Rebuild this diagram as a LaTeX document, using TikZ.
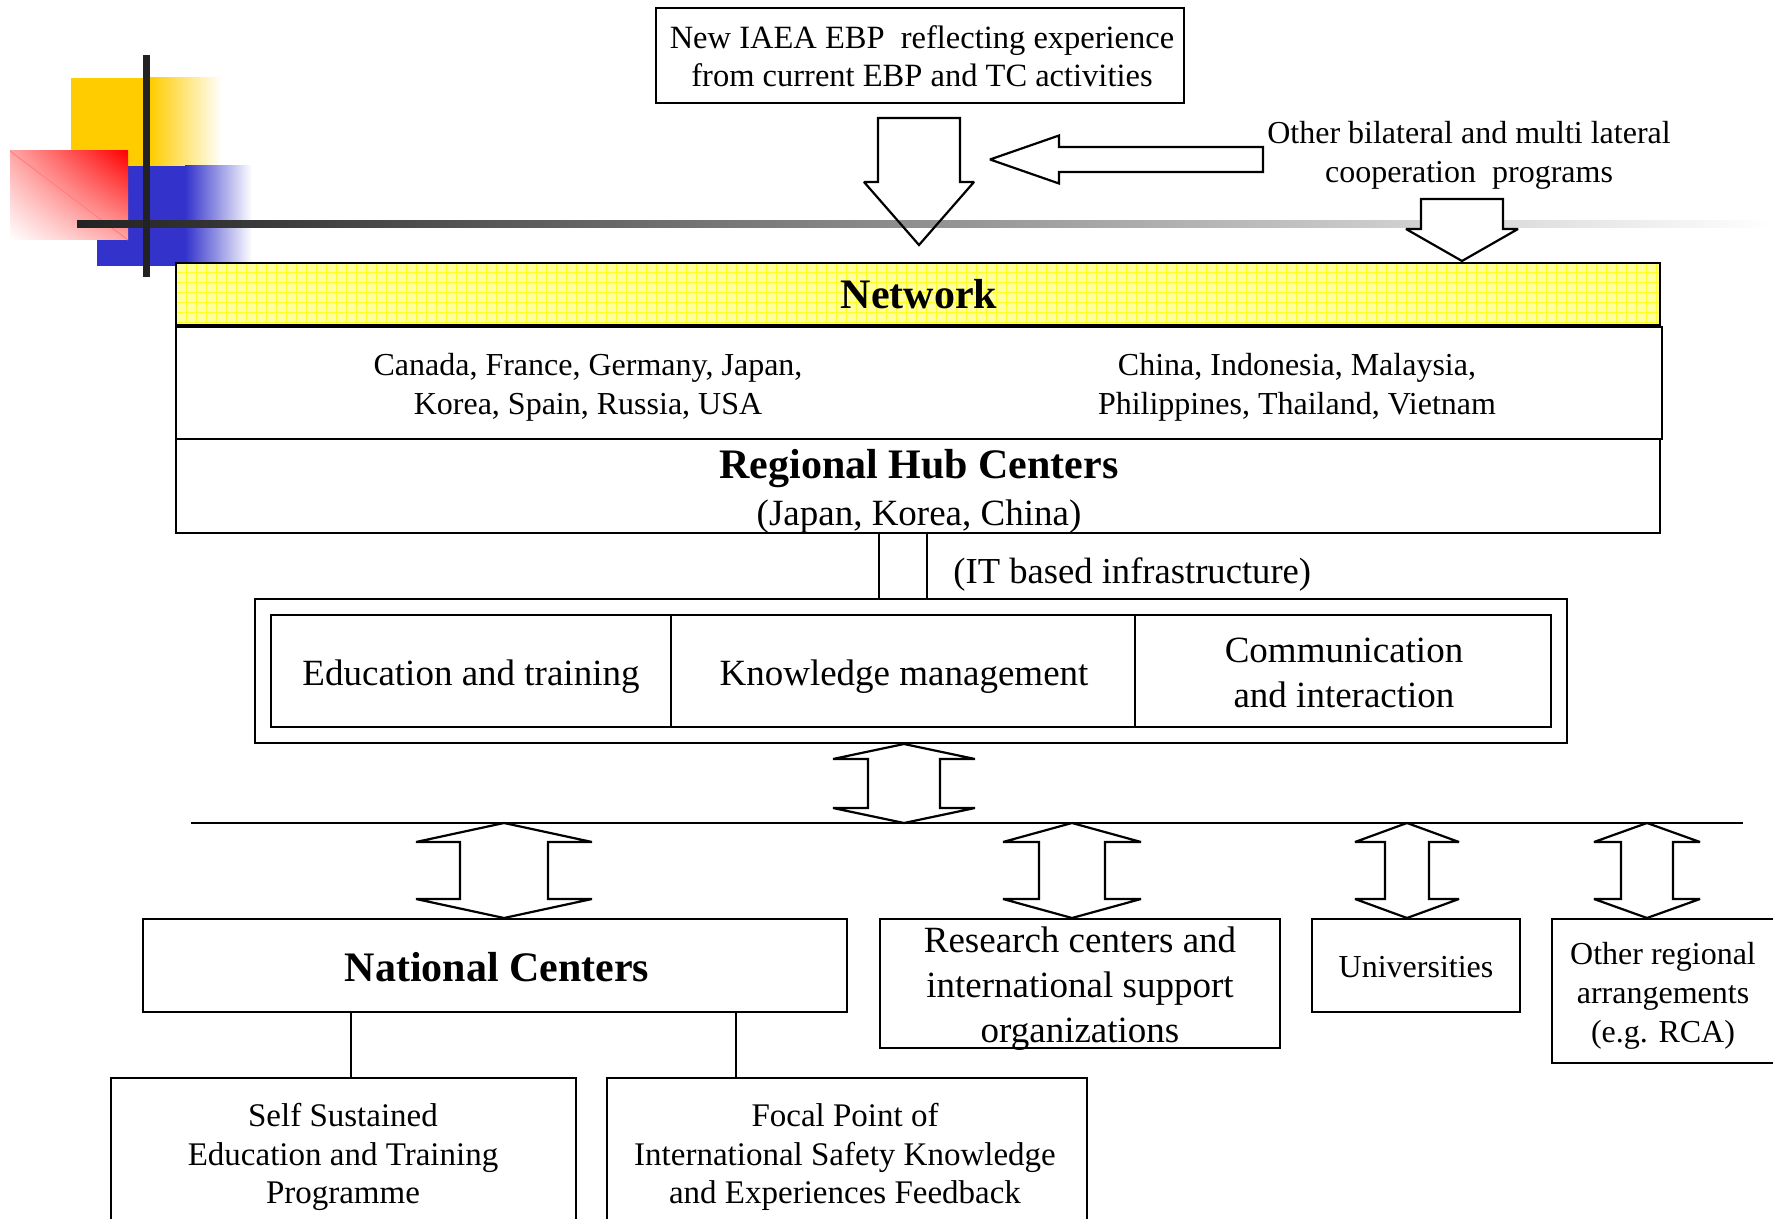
\documentclass[tikz,border=0pt]{standalone}
\usepackage{fontspec}
\setmainfont{Liberation Serif}
\usetikzlibrary{calc,fit,shadings}
\definecolor{decoyellow}{RGB}{255,204,0}
\definecolor{decoblue}{RGB}{51,51,204}
\definecolor{decored}{RGB}{255,0,0}
\definecolor{netfill}{RGB}{255,255,160}
\definecolor{netgrid}{RGB}{255,255,40}
\definecolor{bardark}{RGB}{34,34,34}
% vertical double block arrow: top tip, bottom tip, half shaft, half head, head length
\newcommand\DblArrowV[5]{%
  \draw[barrow] (#1) -- ($(#1)+(#4,#5)$) -- ($(#1)+(#3,#5)$) -- ($(#2)+(#3,-#5)$) -- ($(#2)+(#4,-#5)$) -- (#2) -- ($(#2)+(-#4,-#5)$) -- ($(#2)+(-#3,-#5)$) -- ($(#1)+(-#3,#5)$) -- ($(#1)+(-#4,#5)$) -- cycle;}
% downward block arrow: style, top centre, tip, half shaft, half head, head length
\newcommand\DownArrowV[6]{%
  \draw[#1] ($(#2)+(-#4,0)$) -- ($(#2)+(#4,0)$) -- ($(#3)+(#4,-#6)$) -- ($(#3)+(#5,-#6)$) -- (#3) -- ($(#3)+(-#5,-#6)$) -- ($(#3)+(-#4,-#6)$) -- cycle;}
\begin{document}
\begin{tikzpicture}[x=0.5pt,y=-0.5pt,
  box/.style={draw, line width=1.1pt, inner sep=0pt},
  barrow/.style={draw, line width=1.1pt, line join=miter, miter limit=2, fill=white},
  conn/.style={line width=0.8pt},
  txt/.style={inner sep=0pt, align=center},
  fa/.style={txt, font=\fontsize{16}{19.5}\selectfont},
  fb/.style={txt, font=\fontsize{18.5}{22.5}\selectfont},
  fh/.style={txt, font=\fontsize{21}{24}\selectfont\bfseries},
]
\useasboundingbox (0,0) rectangle (1773,1219);

% decoration top left
\fill[decoyellow] (71,78) rectangle (150,166);
\shade[left color=decoyellow, right color=white] (150,78) rectangle (222,166);
\fill[decoblue] (97,166) rectangle (185,266);
\shade[left color=decoblue, right color=white] (185,166) rectangle (252,266);
\shade[upper right=decored, lower left=white, upper left=decored!35, lower right=decored!35] (10,151) rectangle (128,240);
\draw[decored!50, line width=0.5pt] (10,151) -- (128,240);
\shade[left color=bardark, right color=white] (77,221) rectangle (1773,228);
\fill[bardark] (143,55) rectangle (150,277);

% top box
\node[box, fit={(656,8) (1184,103)}] (iaea) {};
\node[fa, font=\fontsize{16.25}{19}\selectfont] (iaeaT) at (922,56) {New IAEA EBP\ \ reflecting experience\\from current EBP and TC activities};

% arrows at top
\coordinate (a1top) at (919,118);
\coordinate (a1tip) at (919,245);
\DownArrowV{barrow, fill=none}{a1top}{a1tip}{41}{55}{63}
\coordinate (a2top) at (1462,199);
\coordinate (a2tip) at (1462,261);
\DownArrowV{barrow}{a2top}{a2tip}{41}{56}{32}
\coordinate (a3tip) at (990,159.5);
\coordinate (a3end) at (1263,159.5);
\draw[barrow] (a3tip) -- ($(a3tip)+(69,-24)$) -- ($(a3tip)+(69,-12.5)$) -- ($(a3end)+(0,-12.5)$) -- ($(a3end)+(0,12.5)$) -- ($(a3tip)+(69,12.5)$) -- ($(a3tip)+(69,24)$) -- cycle;
\node[fa] (coop) at (1469,155) {Other bilateral and multi lateral\\cooperation\ \ programs};

% network
\fill[netfill] (176,263) rectangle (1660,325);
\foreach \gx in {186,196,...,1656} \draw[netgrid, line width=0.5pt] (\gx,264) -- (\gx,324);
\foreach \gy in {273,283,...,323} \draw[netgrid, line width=0.5pt] (177,\gy) -- (1659,\gy);
\node[box, fit={(176,263) (1660,325)}] (net) {};
\node[fh] (netT) at (919,294) {Network};

% countries
\node[box, fit={(176,327) (1662,439)}] (ctry) {};
\node[fa] (ctryL) at (588,387) {Canada, France, Germany, Japan,\\Korea, Spain, Russia, USA};
\node[fa] (ctryR) at (1297,387) {China, Indonesia, Malaysia,\\Philippines, Thailand, Vietnam};

% regional hub
\node[box, fit={(176,439) (1660,533)}] (hub) {};
\node[fh, anchor=base] (hubT) at (919,479) {Regional Hub Centers};
\node[fb, anchor=base] (hubS) at (919,526) {(Japan, Korea, China)};

% functions block
\node[box, fit={(255,599) (1567,743)}] (outer) {};
\node[box, fit={(271,615) (1551,727)}] (inner) {};
\coordinate (d1) at (671,0);
\coordinate (d2) at (1135,0);
\draw[conn] (d1 |- inner.north) -- (d1 |- inner.south);
\draw[conn] (d2 |- inner.north) -- (d2 |- inner.south);
\node[fb, anchor=base] (edu) at (471,685) {Education and training};
\node[fb, anchor=base] (km) at (904,685) {Knowledge management};
\node[fb] (comm) at (1344,673) {Communication\\and interaction};

% IT link
\coordinate (v1) at (879,0);
\coordinate (v2) at (927,0);
\draw[conn] (v1 |- hub.south) -- (v1 |- outer.north);
\draw[conn] (v2 |- hub.south) -- (v2 |- outer.north);
\node[fb, anchor=base west, font=\fontsize{18.3}{21}\selectfont] (it) at (953,583) {(IT based infrastructure)};

% middle arrow and bus
\coordinate (m1) at (904,744);
\coordinate (m2) at (904,823);
\DblArrowV{m1}{m2}{36}{71}{15}
\coordinate (busL) at (191,823);
\coordinate (busR) at (1743,823);
\draw[line width=1.1pt] (busL) -- (busR);

% lower boxes
\node[box, fit={(143,919) (847,1012)}] (nc) {};
\node[fh] (ncT) at (497,967) {National Centers};
\node[box, fit={(880,919) (1280,1048)}] (rc) {};
\node[fb] (rcT) at (1080,989) {Research centers and\\international support\\organizations};
\node[box, fit={(1312,919) (1520,1012)}] (uni) {};
\node[fa] (uniT) at (1416,967) {Universities};
\node[box, fit={(1552,919) (1800,1063)}] (orc) {};
\node[fa] (orcT) at (1663,996) {Other regional\\arrangements\\(e.g. RCA)};

% arrows from bus
\coordinate (b1) at (504,823);
\coordinate (b1e) at (504,918);
\DblArrowV{b1}{b1e}{44}{88}{19}
\coordinate (b2) at (1072,823);
\coordinate (b2e) at (1072,918);
\DblArrowV{b2}{b2e}{33}{69}{19}
\coordinate (b3) at (1407,823);
\coordinate (b3e) at (1407,918);
\DblArrowV{b3}{b3e}{22}{52}{19}
\coordinate (b4) at (1647,823);
\coordinate (b4e) at (1647,918);
\DblArrowV{b4}{b4e}{26}{53}{19}

% bottom boxes
\node[box, fit={(111,1078) (576,1240)}] (self) {};
\node[fa, font=\fontsize{16.5}{19.25}\selectfont] (selfT) at (343,1157) {Self Sustained\\Education and Training\\Programme};
\node[box, fit={(607,1078) (1087,1240)}] (focal) {};
\node[fa, font=\fontsize{16.5}{19.25}\selectfont] (focalT) at (845,1157) {Focal Point of\\International Safety Knowledge\\and Experiences Feedback};
\coordinate (c1) at (351,0);
\coordinate (c2) at (736,0);
\draw[conn] (c1 |- nc.south) -- (c1 |- self.north);
\draw[conn] (c2 |- nc.south) -- (c2 |- focal.north);
\end{tikzpicture}
\end{document}
